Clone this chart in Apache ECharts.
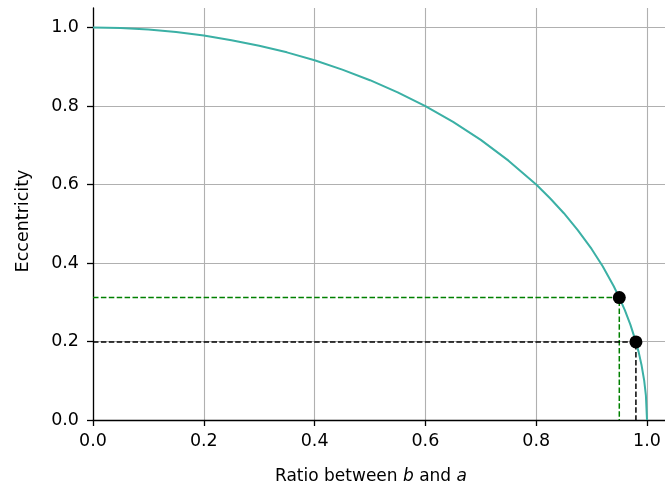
<!DOCTYPE html>
<html><head><meta charset="utf-8">
<script src="https://cdn.jsdelivr.net/npm/echarts@6/dist/echarts.min.js"></script>
<style>html,body{margin:0;padding:0;background:#fff}#c{width:665px;height:491px}</style>
</head><body><div id="c"></div>
<script>
// curve: ratio b/a vs eccentricity
const ratio = [0, 0.05, 0.1, 0.15, 0.2, 0.25, 0.3, 0.35, 0.4, 0.45, 0.5, 0.55, 0.6, 0.65, 0.7, 0.75, 0.8, 0.825, 0.85, 0.875, 0.9, 0.92, 0.94, 0.95, 0.96, 0.97, 0.98, 0.985, 0.99, 0.995, 0.998, 1.0];
const ecc   = [1.0, 0.999, 0.995, 0.989, 0.980, 0.968, 0.954, 0.937, 0.917, 0.893, 0.866, 0.835, 0.800, 0.760, 0.714, 0.661, 0.600, 0.565, 0.527, 0.484, 0.436, 0.392, 0.341, 0.312, 0.280, 0.243, 0.199, 0.173, 0.141, 0.100, 0.063, 0.0];
// highlighted points
const greenPt = [0.95, 0.312];
const blackPt = [0.98, 0.199];
const xTicks = [0.0, 0.2, 0.4, 0.6, 0.8, 1.0];
const yTicks = [0.0, 0.2, 0.4, 0.6, 0.8, 1.0];

const font = 'DejaVu Sans';
const fs = 17.5;
const chart = echarts.init(document.getElementById('c'), null, {renderer: 'canvas'});
function guide(p) { return [[0, p[1]], [p[0], p[1]], [p[0], 0]]; }
const fmt = v => v.toFixed(1);
chart.setOption({
  animation: false,
  grid: {left: 93, top: 8, bottom: 71, right: 0},
  xAxis: {
    type: 'value', min: 0, max: 1.0325,
    name: 'Ratio between {i|b} and {i|a}',
    nameLocation: 'middle', nameGap: 48,
    nameTextStyle: {fontFamily: font, fontSize: 17, color: '#000', padding: [0, 16, 0, 0],
      rich: {i: {fontStyle: 'italic', fontFamily: font, fontSize: 17, color: '#000'}}},
    axisLine: {lineStyle: {color: '#000', width: 1.3}},
    axisTick: {show: true, length: 6, lineStyle: {color: '#000', width: 1.3}, customValues: xTicks},
    axisLabel: {fontFamily: font, fontSize: fs, color: '#000', margin: 12, customValues: xTicks, formatter: fmt},
    splitLine: {show: true, lineStyle: {color: '#b0b0b0', width: 1.1}}
  },
  yAxis: {
    type: 'value', min: 0, max: 1.05,
    name: 'Eccentricity', nameLocation: 'middle', nameGap: 61,
    nameTextStyle: {fontFamily: font, fontSize: fs, color: '#000', padding: [0, 14, 0, 0]},
    axisLine: {lineStyle: {color: '#000', width: 1.3}},
    axisTick: {show: true, length: 6, lineStyle: {color: '#000', width: 1.3}, customValues: yTicks},
    axisLabel: {fontFamily: font, fontSize: fs, color: '#000', margin: 14, customValues: yTicks, formatter: fmt},
    splitLine: {show: true, lineStyle: {color: '#b0b0b0', width: 1.1}}
  },
  series: [
    {type: 'line', data: ratio.map((x, i) => [x, ecc[i]]), showSymbol: false, smooth: false,
     lineStyle: {color: '#3bb0a5', width: 2}, z: 3},
    {type: 'line', data: guide(greenPt), showSymbol: false,
     lineStyle: {color: '#008000', width: 1.5, type: [5.5, 2.4]}, z: 2},
    {type: 'line', data: guide(blackPt), showSymbol: false,
     lineStyle: {color: '#000', width: 1.5, type: [5.5, 2.4]}, z: 2},
    {type: 'scatter', data: [greenPt, blackPt], symbolSize: 13,
     itemStyle: {color: '#000', opacity: 1}, z: 5}
  ]
});
</script></body></html>
